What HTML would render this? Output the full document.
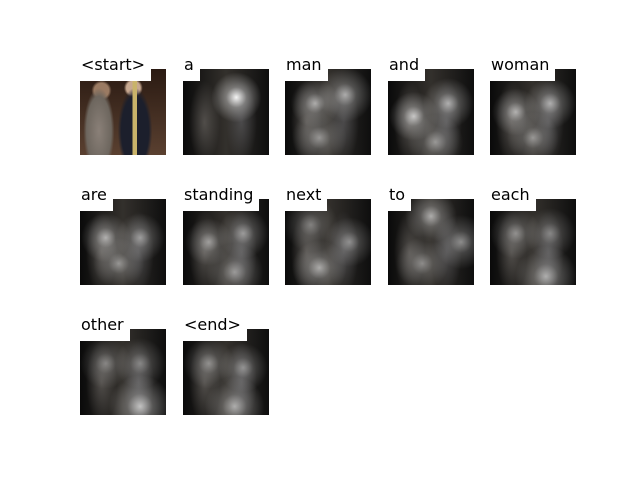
<!DOCTYPE html>
<html><head><meta charset="utf-8">
<style>
body{margin:0;width:640px;height:480px;background:#fff;position:relative;overflow:hidden;font-family:"DejaVu Sans","Liberation Sans",sans-serif}
.cell{position:absolute;width:86px;height:86px;background:#111}
.lbl{position:absolute;font-size:16px;line-height:20px;background:#fff;color:#000;padding:0 6px 0 1px;height:26px;box-sizing:border-box}
</style></head><body>
<div id="root"></div>
<script>
const words=["<start>","a","man","and","woman","are","standing","next","to","each","other","<end>"];
// attention blob centers (fraction x, fraction y, intensity)
const blobs=[[],[[0.62,0.33,0.95]],[[0.35,0.4,0.6],[0.7,0.3,0.6],[0.4,0.8,0.5]],[[0.3,0.55,0.7],[0.7,0.4,0.6],[0.55,0.85,0.5]],[[0.3,0.5,0.6],[0.7,0.4,0.6],[0.5,0.8,0.5]],[[0.3,0.45,0.6],[0.7,0.45,0.5],[0.45,0.75,0.5]],[[0.3,0.5,0.5],[0.7,0.4,0.5],[0.6,0.85,0.5]],[[0.3,0.3,0.4],[0.75,0.5,0.45],[0.4,0.8,0.6]],[[0.5,0.2,0.6],[0.85,0.5,0.5],[0.4,0.75,0.45]],[[0.3,0.4,0.45],[0.7,0.4,0.4],[0.65,0.9,0.6]],[[0.3,0.4,0.4],[0.7,0.4,0.4],[0.7,0.9,0.7]],[[0.3,0.4,0.45],[0.7,0.45,0.45],[0.6,0.9,0.6]]];
const colX=[80,183,285,388,490], rowY=[69,199,329];
const root=document.getElementById('root');
words.forEach((w,i)=>{
  const x=colX[i%5], y=rowY[Math.floor(i/5)];
  const c=document.createElement('div');
  
  
  c.className='cell';c.style.left=x+'px';c.style.top=y+'px';
  let g;
  if(i===0){
    g='linear-gradient(90deg,transparent 61%,#c9b36a 61%,#c9b36a 66%,transparent 66%),radial-gradient(ellipse 20% 50% at 64% 72%,#1c1f2c 0,#1c1f2c 80%,transparent 100%),radial-gradient(ellipse 18% 50% at 22% 72%,#8a8078 0,#6d665e 80%,transparent 100%),radial-gradient(circle at 25% 25%,#9a7a62 0,#9a7a62 8%,transparent 11%),radial-gradient(circle at 62% 22%,#c7a890 0,#c7a890 8%,transparent 11%),linear-gradient(#2a1a12,#5a4030)';
  } else {
    g=blobs[i].map(b=>`radial-gradient(circle at ${b[0]*100}% ${b[1]*100}%,rgba(255,255,255,${b[2]}) 0,rgba(220,220,220,${b[2]*0.45}) 13%,transparent 32%)`).join(',')+
    ',radial-gradient(ellipse 18% 48% at 25% 62%,rgba(130,125,120,.5) 0,transparent 100%),radial-gradient(ellipse 18% 48% at 68% 62%,rgba(120,120,125,.45) 0,transparent 100%),linear-gradient(90deg,#0a0a0a,#33302c 50%,#0e0e0e)';
  }
  c.style.background=g;
  root.appendChild(c);
  const l=document.createElement('div');
  
  
  l.className='lbl';l.textContent=w;l.style.left=x+'px';l.style.top=(y-14)+'px';
  root.appendChild(l);
});
</script>
</body></html>
